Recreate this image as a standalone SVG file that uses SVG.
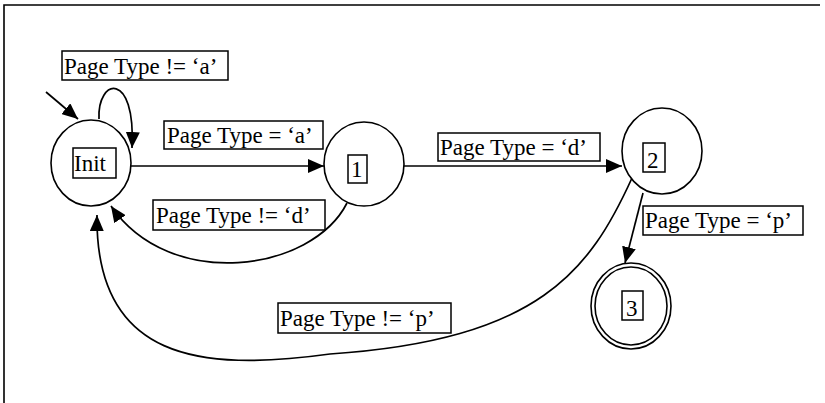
<svg xmlns="http://www.w3.org/2000/svg" width="825" height="403" viewBox="0 0 825 403">
  <style>
    .state { fill: #fff; stroke: #000; stroke-width: 1.6; }
    .box { fill: #fff; stroke: #000; stroke-width: 1.5; }
    .lbl { font-family: "Liberation Serif", "Times New Roman", serif; font-size: 23px; fill: #000; }
    .edge { fill: none; stroke: #000; stroke-width: 1.7; marker-end: url(#arrow); }
  </style>
  <defs>
    <marker id="arrow" viewBox="0 0 16 14" refX="16" refY="7" markerWidth="16" markerHeight="14" markerUnits="userSpaceOnUse" orient="auto">
      <path d="M0,0 L16,7 L0,14 Z" fill="#000"/>
    </marker>
  </defs>
  <rect width="825" height="403" fill="#fff"/>

  <!-- frame (top and left edges only) -->
  <path d="M4,403 L4,5 L820,5" fill="none" stroke="#000" stroke-width="1.6"/>

  <!-- transitions -->
  <g id="connectors">
    <path class="edge" d="M46,92 L78,119"/>
    <path class="edge" d="M99,119 C97,78 136,70 132,148"/>
    <path class="edge" d="M131,166 L324,166"/>
    <path class="edge" d="M404,166 L622,166"/>
    <path class="edge" d="M347,203 C312,272 170,292 111,206"/>
    <path class="edge" d="M632,178 C590,270 540,340 330,354 C200,372 95,360 97,215"/>
    <path class="edge" d="M643,193 L625,263"/>
  </g>

  <!-- states -->
  <g id="node-init">
    <ellipse class="state" cx="91" cy="163" rx="40" ry="43"/>
    <rect class="box" x="73" y="148" width="43" height="30"/>
    <text class="lbl" x="74" y="171">Init</text>
  </g>
  <g id="node-1">
    <ellipse class="state" cx="364" cy="164" rx="40" ry="42"/>
    <rect class="box" x="348" y="155" width="19" height="28"/>
    <text class="lbl" x="351" y="177">1</text>
  </g>
  <g id="node-2">
    <ellipse class="state" cx="662" cy="151" rx="40" ry="43"/>
    <rect class="box" x="643" y="143" width="22" height="29"/>
    <text class="lbl" x="647" y="168">2</text>
  </g>
  <g id="node-3">
    <ellipse class="state" cx="631" cy="306" rx="40" ry="43"/>
    <ellipse class="state" cx="631" cy="306" rx="36" ry="39"/>
    <rect class="box" x="622" y="291" width="21" height="29"/>
    <text class="lbl" x="626" y="316">3</text>
  </g>

  <!-- transition labels -->
  <g id="label-init-self">
    <rect class="box" x="62" y="51" width="166" height="29"/>
    <text class="lbl" x="64" y="74">Page Type != ‘a’</text>
  </g>
  <g id="label-init-1">
    <rect class="box" x="164" y="121" width="159" height="28"/>
    <text class="lbl" x="167" y="143">Page Type = ‘a’</text>
  </g>
  <g id="label-1-init">
    <rect class="box" x="153" y="200" width="172" height="30"/>
    <text class="lbl" x="156" y="223">Page Type != ‘d’</text>
  </g>
  <g id="label-1-2">
    <rect class="box" x="438" y="133" width="162" height="28"/>
    <text class="lbl" x="440" y="155">Page Type = ‘d’</text>
  </g>
  <g id="label-2-3">
    <rect class="box" x="643" y="206" width="160" height="29"/>
    <text class="lbl" x="645" y="228">Page Type = ‘p’</text>
  </g>
  <g id="label-2-init">
    <rect class="box" x="278" y="303" width="173" height="30"/>
    <text class="lbl" x="280" y="326">Page Type != ‘p’</text>
  </g>
</svg>
